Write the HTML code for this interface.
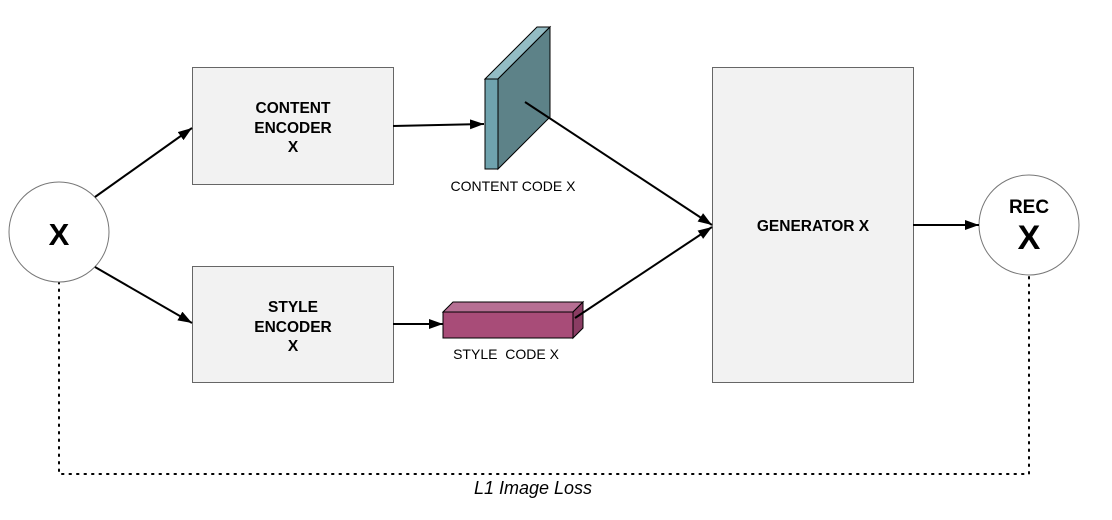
<!DOCTYPE html>
<html><head><meta charset="utf-8"><style>
html,body{margin:0;padding:0;background:#fff;}
svg{display:block;font-family:"Liberation Sans",Arial,sans-serif;}
</style></head><body>
<svg width="1112" height="520" viewBox="0 0 1112 520" xmlns="http://www.w3.org/2000/svg">
<defs>
<marker id="ah" viewBox="0 0 14 10" refX="14" refY="5" markerWidth="14" markerHeight="10" markerUnits="userSpaceOnUse" orient="auto">
<path d="M0,0 L14,5 L0,10 z" fill="#000"/></marker>
</defs>
<path d="M59,282 L59,474 L1029,474 L1029,276" fill="none" stroke="#000" stroke-width="2" stroke-dasharray="1.5,6" stroke-linecap="round"/>
<text x="533" y="494" font-size="18" font-style="italic" text-anchor="middle">L1 Image Loss</text>

<circle cx="59" cy="232" r="50" fill="#fff" stroke="#777" stroke-width="1"/>
<text x="59" y="245" font-size="31" font-weight="bold" text-anchor="middle">X</text>

<circle cx="1029" cy="225" r="50" fill="#fff" stroke="#777" stroke-width="1"/>
<text x="1029" y="213" font-size="19" font-weight="bold" text-anchor="middle">REC</text>
<text x="1029" y="249" font-size="34" font-weight="bold" text-anchor="middle">X</text>

<rect x="192.5" y="67.5" width="201" height="117" fill="#f2f2f2" stroke="#666" stroke-width="1"/>
<text font-size="15.5" font-weight="bold" text-anchor="middle"><tspan x="293" y="113">CONTENT</tspan><tspan x="293" y="133">ENCODER</tspan><tspan x="293" y="152">X</tspan></text>
<rect x="192.5" y="266.5" width="201" height="116" fill="#f2f2f2" stroke="#666" stroke-width="1"/>
<text font-size="15.5" font-weight="bold" text-anchor="middle"><tspan x="293" y="312">STYLE</tspan><tspan x="293" y="332">ENCODER</tspan><tspan x="293" y="351">X</tspan></text>
<rect x="712.5" y="67.5" width="201" height="315" fill="#f2f2f2" stroke="#666" stroke-width="1"/>
<text x="813" y="231" font-size="15.5" font-weight="bold" text-anchor="middle">GENERATOR X</text>

<line x1="95" y1="197" x2="192" y2="128" stroke="#000" stroke-width="2" marker-end="url(#ah)"/>
<line x1="95" y1="267" x2="192" y2="323" stroke="#000" stroke-width="2" marker-end="url(#ah)"/>
<line x1="393" y1="126" x2="484" y2="124" stroke="#000" stroke-width="2" marker-end="url(#ah)"/>
<line x1="393" y1="324" x2="443" y2="324" stroke="#000" stroke-width="2" marker-end="url(#ah)"/>
<line x1="913" y1="225" x2="979" y2="225" stroke="#000" stroke-width="2" marker-end="url(#ah)"/>

<polygon points="485,79 537,27 550,27 498,79" fill="#93bcc4" stroke="#000" stroke-width="1"/>
<polygon points="498,79 550,27 550,117 498,169" fill="#5d8288" stroke="#000" stroke-width="1"/>
<rect x="485" y="79" width="13" height="90" fill="#6fa3ae" stroke="#000" stroke-width="1"/>
<text x="513" y="191" font-size="14" text-anchor="middle">CONTENT CODE X</text>

<polygon points="443,312 453,302 583,302 573,312" fill="#b66f93" stroke="#000" stroke-width="1"/>
<polygon points="573,312 583,302 583,328 573,338" fill="#8a3c63" stroke="#000" stroke-width="1"/>
<rect x="443" y="312" width="130" height="26" fill="#a84c78" stroke="#000" stroke-width="1"/>
<text x="506" y="359" font-size="14" text-anchor="middle">STYLE&#160; CODE X</text>

<line x1="525" y1="102" x2="712" y2="225" stroke="#000" stroke-width="2" marker-end="url(#ah)"/>
<line x1="575" y1="318" x2="712" y2="227" stroke="#000" stroke-width="2" marker-end="url(#ah)"/>
</svg>
</body></html>
